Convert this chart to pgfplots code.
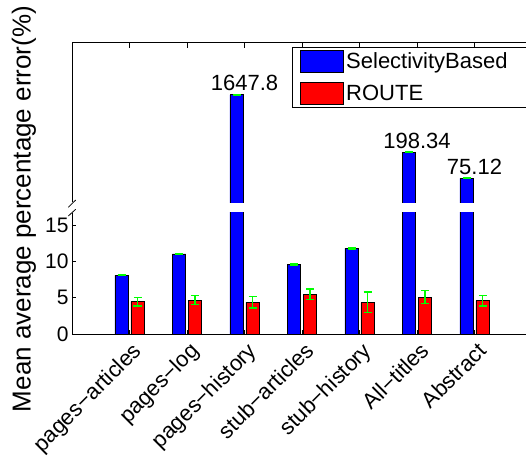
\documentclass[border=0pt]{standalone}
\usepackage{pgfplots}
\usepackage{pgfplotstable}
\pgfplotsset{compat=1.18}
\usepackage{fontspec}
\setmainfont{Liberation Sans}

\definecolor{mblue}{RGB}{0,0,255}
\definecolor{mred}{RGB}{255,0,0}
\definecolor{mgreen}{RGB}{0,255,0}

% mean average percentage error per dataset, with error
\pgfplotstableread{
x blue   blueerr red  rederr
1 8.1    0.05    4.48 0.58
2 11.05  0.05    4.67 0.62
3 1647.8 1       4.35 0.80
4 9.6    0.05    5.50 0.73
5 11.8   0.05    4.37 1.42
6 198.34 0.5     5.10 0.90
7 75.12  0.3     4.60 0.71
}\errdata

% the bars that run past the lower panel
\pgfplotstableread{
x blue   blueerr label
3 1647.8 1       1647.8
6 198.34 0.5     198.34
7 75.12  0.3     75.12
}\bigdata

% bar offset from the group centre, in x units (8pt at 57.5pt per unit)
\def\off{0.1391}

\pgfplotsset{
  every axis/.append style={
    scale only axis, width=460pt, xmin=0, xmax=8,
    axis line style={line width=1pt},
    tick style={line width=0.8pt, black},
    tick align=inside,
    tick label style={font=\fontsize{21}{25}\selectfont},
    /pgf/number format/assume math mode=true,
  },
  mybar/.style={ybar, bar width=13.3pt, draw=black, line width=0.7pt},
  errbar/.style={draw=none, mark=none, forget plot,
    error bars/y dir=both, error bars/y explicit,
    error bars/error bar style={draw=mgreen, line width=1.6pt},
    error bars/error mark options={rotate=90, draw=mgreen, mark size=4pt, line width=1.6pt}},
}

\begin{document}
\begin{tikzpicture}
% lower panel: 0 to about 17
\begin{axis}[
  at={(72pt,124pt)}, anchor=south west,
  height=121.5pt,
  ymin=0, ymax=16.76,
  axis x line*=bottom, axis y line*=left,
  ytick={0,5,10,15},
  xtick={1,...,7},
  xticklabels={pages−articles,pages−log,pages−history,stub−articles,stub−history,All−titles,Abstract},
  x tick label style={xshift=2pt, yshift=-2pt, rotate=45, anchor=north east, font=\fontsize{22}{26}\selectfont},
  major tick length=4pt,
]
\addplot[mybar, fill=mblue, bar shift=-8pt] table[x=x, y=blue] {\errdata};
\addplot[mybar, fill=mred, bar shift=8pt] table[x=x, y=red] {\errdata};
\addplot[errbar] table[x expr=\thisrow{x}-\off, y=blue, y error=blueerr] {\errdata};
\addplot[errbar] table[x expr=\thisrow{x}+\off, y=red, y error=rederr] {\errdata};
\end{axis}

% upper panel: log scale for the large values
\begin{axis}[
  at={(72pt,255.5pt)}, anchor=south west,
  height=159.5pt,
  ymode=log, ymin=30.7, ymax=11170,
  axis x line*=top, axis y line*=left,
  ytick=\empty,
  xtick={1,...,7}, xticklabels={},
  major tick length=5pt,
  legend cell align=left,
  legend image code/.code={\draw[#1,draw=black,line width=0.8pt] (0pt,-11pt) rectangle (43pt,11pt);},
  legend style={at={(0.4783,0.977)}, anchor=north west, draw=black, line width=0.8pt,
    font=\fontsize{22}{26}\selectfont, inner xsep=8pt, inner ysep=3pt, row sep=9pt},
]
\addplot[mybar, fill=mblue, bar shift=-8pt, forget plot,
  nodes near coords, point meta=explicit symbolic,
  nodes near coords style={font=\fontsize{22}{26}\selectfont, black}]
  table[x=x, y=blue, meta=label] {\bigdata};
\addplot[errbar] table[x expr=\thisrow{x}-\off, y=blue, y error=blueerr] {\bigdata};
\addlegendimage{fill=mblue}
\addlegendentry{\makebox[185pt][l]{SelectivityBased}}
\addlegendimage{fill=mred}
\addlegendentry{\makebox[185pt][l]{ROUTE}}
\end{axis}

% axis break marks
\draw[line width=0.8pt] (68.3pt,250.7pt) -- (75.7pt,258pt);
\draw[line width=0.8pt] (68.3pt,242pt) -- (75.7pt,248.7pt);

\node[rotate=90, font=\fontsize{26}{30}\selectfont] at (24pt,249pt) {Mean average percentage error(\%)};

\pgfresetboundingbox
\path[use as bounding box] (0,0) rectangle (526pt,458pt);
\end{tikzpicture}
\end{document}
